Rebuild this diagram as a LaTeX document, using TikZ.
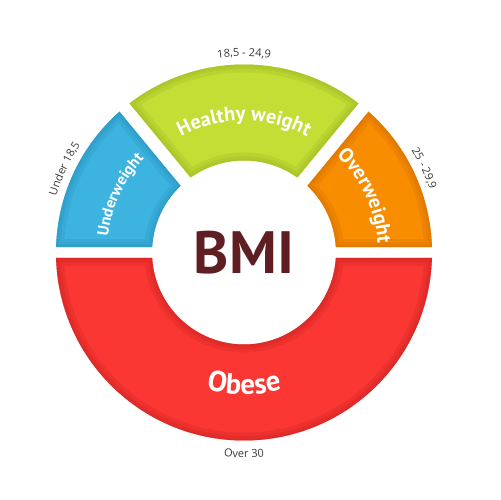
\documentclass[tikz,border=0pt]{standalone}
\usepackage{fontspec}
\newfontfamily\osans{Open Sans}
\newfontfamily\ptsans{PT Sans}
\usetikzlibrary{decorations.text}
\definecolor{blueC}{HTML}{3DB4E0}
\definecolor{blueD}{HTML}{2A93C0}
\definecolor{greenC}{HTML}{C4DE36}
\definecolor{greenD}{HTML}{A0BB24}
\definecolor{orangeC}{HTML}{F88D00}
\definecolor{orangeD}{HTML}{D97200}
\definecolor{redC}{HTML}{FA3733}
\definecolor{redD}{HTML}{D02624}
\definecolor{bmiC}{HTML}{5E1E22}
\definecolor{labC}{HTML}{3A3A3A}
\newcommand\bevel[3]{% path, fill colour, edge colour
  \fill[#2] #1;
  \begin{scope}
    \clip #1;
    \draw[#3, opacity=.3, line width=9pt] #1;
    \draw[#3, opacity=.3, line width=5pt] #1;
    \draw[#3, opacity=.3, line width=2pt] #1;
  \end{scope}}
\begin{document}
\begin{tikzpicture}[x=0.02cm,y=0.02cm]
\useasboundingbox (-244,-247.5) rectangle (256,252.5);
\pgfmathsetmacro\ao{asin(5.5/188)}
\pgfmathsetmacro\ai{asin(5.5/92)}
\pgfmathsetmacro\bo{asin(6.5/188)}
\pgfmathsetmacro\bi{asin(6.5/92)}
\def\R{188}\def\r{92}
% segments
\pgfmathsetmacro\bs{129.5+\bo}\pgfmathsetmacro\be{180-\ao}
\pgfmathsetmacro\bis{180-\ai}\pgfmathsetmacro\bie{129.5+\bi}
\def\pblue{(\bs:\R) arc[start angle=\bs,end angle=\be,radius=\R] -- (\bis:\r) arc[start angle=\bis,end angle=\bie,radius=\r] -- cycle}
\pgfmathsetmacro\gs{50.5+\bo}\pgfmathsetmacro\ge{129.5-\bo}
\pgfmathsetmacro\gis{129.5-\bi}\pgfmathsetmacro\gie{50.5+\bi}
\def\pgreen{(\gs:\R) arc[start angle=\gs,end angle=\ge,radius=\R] -- (\gis:\r) arc[start angle=\gis,end angle=\gie,radius=\r] -- cycle}
\pgfmathsetmacro\os{\ao}\pgfmathsetmacro\oe{50.5-\bo}
\pgfmathsetmacro\ois{50.5-\bi}\pgfmathsetmacro\oie{\ai}
\def\porange{(\os:\R) arc[start angle=\os,end angle=\oe,radius=\R] -- (\ois:\r) arc[start angle=\ois,end angle=\oie,radius=\r] -- cycle}
\pgfmathsetmacro\rs{180+\ao}\pgfmathsetmacro\re{360-\ao}
\pgfmathsetmacro\ris{360-\ai}\pgfmathsetmacro\rie{180+\ai}
\def\pred{(\rs:\R) arc[start angle=\rs,end angle=\re,radius=\R] -- (\ris:\r) arc[start angle=\ris,end angle=\rie,radius=\r] -- cycle}
\bevel{\pblue}{blueC}{blueD}
\bevel{\pgreen}{greenC}{greenD}
\bevel{\porange}{orangeC}{orangeD}
\bevel{\pred}{redC}{redD}
% centre
\node[text=bmiC, font=\ptsans\bfseries\fontsize{34}{34}\selectfont] (bmi) at (0,0) {BMI};
% inner labels (clockwise, tops outward)
\path[decorate, decoration={text along path, text align=center, text color=white,
  text={|\ptsans\bfseries\fontsize{11.5}{11.5}\selectfont|Healthy weight}}]
  (150:132) arc[start angle=150,end angle=30,radius=132];
\path[decorate, decoration={text along path, text align=center, text color=white,
  text={|\ptsans\bfseries\fontsize{9}{9}\selectfont|Underweight}}]
  (215:137) arc[start angle=215,end angle=95,radius=137];
\path[decorate, decoration={text along path, text align=center, text color=white,
  text={|\ptsans\bfseries\fontsize{11.5}{11.5}\selectfont|Overweight}}]
  (85:134) arc[start angle=85,end angle=-35,radius=134];
\path[decorate, decoration={text along path, text align=center, text color=white,
  text={|\ptsans\bfseries\fontsize{16.5}{16.5}\selectfont|Obese}}]
  (220:142) arc[start angle=220,end angle=320,radius=142];
% outer labels
\path[decorate, decoration={text along path, text align=center, text color=labC,
  text={|\osans\fontsize{6.3}{6.3}\selectfont|18,5 - 24,9}}]
  (130:196) arc[start angle=130,end angle=50,radius=196];
\path[decorate, decoration={text along path, text align=center, text color=labC,
  text={|\osans\fontsize{6.3}{6.3}\selectfont|Under 18,5}}]
  (195:196) arc[start angle=195,end angle=115,radius=196];
\path[decorate, decoration={text along path, text align=center, text color=labC,
  text={|\osans\fontsize{6.3}{6.3}\selectfont|25 - 29,9}}]
  (65:196) arc[start angle=65,end angle=-15,radius=196];
\path[decorate, decoration={text along path, text align=center, text color=labC,
  text={|\osans\fontsize{6.3}{6.3}\selectfont|Over 30}}]
  (240:205) arc[start angle=240,end angle=300,radius=205];
\end{tikzpicture}
\end{document}
